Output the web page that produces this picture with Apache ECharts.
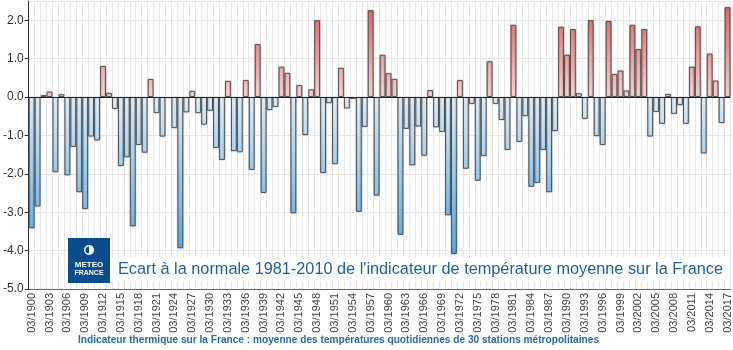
<!DOCTYPE html>
<html lang="fr">
<head>
    <meta charset="UTF-8">
    <title>Ecart à la normale</title>
    <script src="https://cdn.jsdelivr.net/npm/echarts@6/dist/echarts.min.js"></script>
    <style>
        html, body { margin: 0; padding: 0; background: #fff; }
    </style>
</head>
<body>
<div id="main" style="width: 733px; height: 350px;"></div>
<script>
    // années (mars de chaque année) et écart à la normale 1981-2010 (°C)
    var years = [];
    for (var y = 1900; y <= 2017; y++) years.push('03/' + y);

    var ecarts = [
        -3.42, -2.85, 0.05, 0.14, -1.96, 0.07, -2.04, -1.30, -2.48, -2.92,
        -1.03, -1.13, 0.81, 0.11, -0.31, -1.80, -1.57, -3.37, -1.25, -1.45,
        0.47, -0.42, -1.03, -0.03, -0.81, -3.94, -0.40, 0.16, -0.42, -0.72,
        -0.36, -1.33, -1.64, 0.42, -1.41, -1.44, 0.44, -1.90, 1.38, -2.50,
        -0.34, -0.26, 0.79, 0.63, -3.03, 0.31, -0.99, 0.20, 2.00, -1.98,
        -0.16, -1.75, 0.76, -0.30, -0.05, -2.99, -0.78, 2.26, -2.57, 1.10,
        0.62, 0.47, -3.59, -0.83, -1.78, -0.77, -1.53, 0.18, -0.79, -0.91,
        -3.08, -4.09, 0.44, -1.87, -0.18, -2.18, -1.54, 0.93, -0.18, -0.60,
        -1.38, 1.88, -1.17, -0.50, -2.34, -2.24, -1.38, -2.48, -0.89, 1.83,
        1.10, 1.77, 0.10, -0.57, 2.00, -1.02, -1.25, 1.98, 0.60, 0.69,
        0.17, 1.88, 1.25, 1.77, -1.03, -0.39, -0.70, 0.08, -0.44, -0.21,
        -0.70, 0.79, 1.84, -1.47, 1.13, 0.43, -0.68, 2.34
    ];

    var titre = "Ecart à la normale 1981-2010 de l'indicateur de température moyenne sur la France";
    var sousTitre = "Indicateur thermique sur la France : moyenne des températures quotidiennes de 30 stations métropolitaines";

    var myChart = echarts.init(document.getElementById('main'));

    // dégradés en coordonnées globales (pixels)
    var rouge = new echarts.graphic.LinearGradient(0, 0, 0, 97, [
        {offset: 0, color: '#f05656'},
        {offset: 1, color: '#ffd4d4'}
    ], true);
    var bleu = new echarts.graphic.LinearGradient(0, 97, 0, 288, [
        {offset: 0, color: '#e2f2fd'},
        {offset: 1, color: '#2c9ef0'}
    ], true);

    var data = ecarts.map(function (v) {
        return {value: v, itemStyle: {color: v >= 0 ? rouge : bleu}};
    });

    var option = {
        animation: false,
        textStyle: {fontFamily: 'Liberation Sans, Arial, sans-serif'},
        grid: {left: 22, right: 0, top: 1, bottom: 61},
        xAxis: {
            type: 'category',
            data: years,
            axisLine: {onZero: false, lineStyle: {color: '#666'}},
            axisTick: {show: false},
            axisLabel: {
                interval: 2,
                rotate: 90,
                fontSize: 11,
                color: '#444',
                margin: 4
            },
            splitLine: {show: true, interval: 0, lineStyle: {color: '#e6e6e6'}}
        },
        yAxis: {
            type: 'value',
            min: -5,
            max: 2.5,
            interval: 1,
            axisLine: {show: true, lineStyle: {color: '#333'}},
            axisTick: {show: true, length: 4, lineStyle: {color: '#333'}},
            axisLabel: {
                fontSize: 12,
                color: '#333',
                margin: 5,
                showMaxLabel: false,
                formatter: function (v) { return v === 2.5 ? '' : v.toFixed(1); }
            },
            splitLine: {lineStyle: {color: '#e6e6e6'}}
        },
        series: [{
            type: 'bar',
            data: data,
            barCategoryGap: '2%',
            itemStyle: {
                borderColor: '#555',
                borderWidth: 1,
                shadowColor: 'rgba(0,0,0,0.25)',
                shadowBlur: 2
            },
            markLine: {
                silent: true,
                symbol: 'none',
                label: {show: false},
                lineStyle: {color: '#222', width: 1, type: 'solid'},
                data: [{yAxis: 0}]
            }
        }],
        graphic: [
            {
                type: 'rect',
                shape: {x: 112, y: 257, width: 616, height: 24},
                style: {fill: '#fff'},
                z: 10
            },
            {
                type: 'text',
                x: 118, y: 270,
                style: {
                    text: titre,
                    fill: '#1e5f9e',
                    font: '16.3px "Liberation Sans", Arial, sans-serif',
                    verticalAlign: 'middle'
                },
                z: 11
            },
            {
                type: 'rect',
                shape: {x: 68, y: 238, width: 42, height: 45},
                style: {fill: '#0b4d8c'},
                z: 12
            },
            {
                type: 'circle',
                shape: {cx: 89, cy: 250, r: 5},
                style: {fill: '#fff'},
                z: 13
            },
            {
                type: 'sector',
                shape: {cx: 89, cy: 250, r: 3.5, startAngle: Math.PI / 2, endAngle: Math.PI * 1.5},
                style: {fill: '#0b4d8c'},
                z: 14
            },
            {
                type: 'text',
                x: 89, y: 265,
                style: {
                    text: 'METEO',
                    fill: '#fff',
                    font: 'bold 8px "Liberation Sans", Arial, sans-serif',
                    align: 'center',
                    verticalAlign: 'middle'
                },
                z: 13
            },
            {
                type: 'text',
                x: 89, y: 273,
                style: {
                    text: 'FRANCE',
                    fill: '#fff',
                    font: 'bold 7px "Liberation Sans", Arial, sans-serif',
                    align: 'center',
                    verticalAlign: 'middle'
                },
                z: 13
            },
            {
                type: 'text',
                x: 78, y: 340,
                style: {
                    text: sousTitre,
                    fill: '#2a6aae',
                    font: 'bold 10.15px "Liberation Sans", Arial, sans-serif',
                    verticalAlign: 'middle'
                }
            }
        ]
    };

    myChart.setOption(option);
</script>
</body>
</html>
